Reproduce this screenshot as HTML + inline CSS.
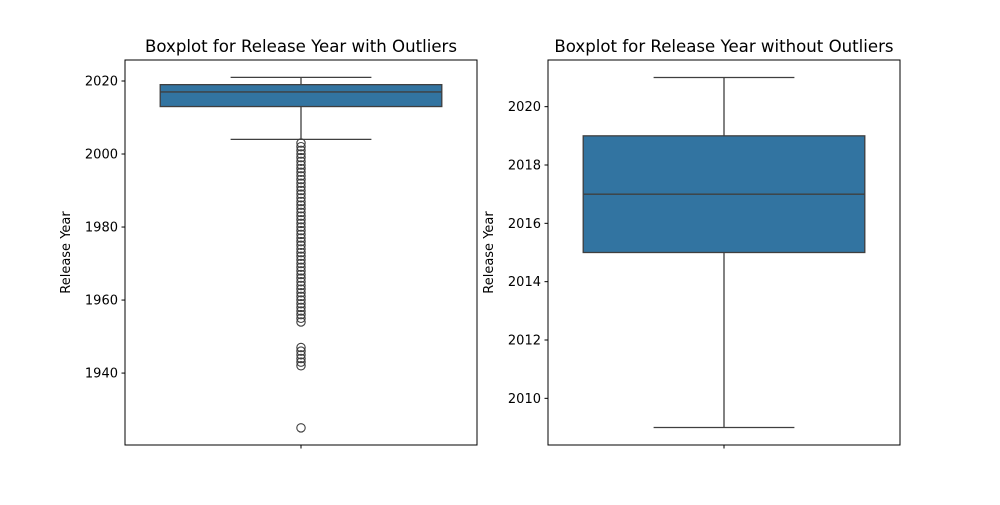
<!DOCTYPE html>
<html><head><meta charset="utf-8"><style>
body{margin:0;background:#fff;font-family:"Liberation Sans","DejaVu Sans",sans-serif}
svg text{font-family:"DejaVu Sans","Liberation Sans",sans-serif;fill:#000}
</style></head><body>
<svg id="c" width="1000" height="500" xmlns="http://www.w3.org/2000/svg"></svg>
<script>
const leftStats=[2004,2013,2017,2019,2021];
const leftOutliers=[1925,1942,1943,1944,1945,1946,1947,1954,1955,1956,1957,1958,1959,1960,1961,1962,1963,1964,1965,1966,1967,1968,1969,1970,1971,1972,1973,1974,1975,1976,1977,1978,1979,1980,1981,1982,1983,1984,1985,1986,1987,1988,1989,1990,1991,1992,1993,1994,1995,1996,1997,1998,1999,2000,2001,2002,2003];
const leftTicks=[1940,1960,1980,2000,2020];
const rightStats=[2009,2015,2017,2019,2021];
const rightTicks=[2010,2012,2014,2016,2018,2020];
const NS="http://www.w3.org/2000/svg";
const svg=document.getElementById('c');
function mk(tag,attrs,parent){const e=document.createElementNS(NS,tag);for(const k in attrs)e.setAttribute(k,attrs[k]);(parent||svg).appendChild(e);return e;}
function panel(x0,x1,ymin,ymax,stats,outliers,ticks,title,key){
  const top=60,bot=445;
  const g=mk('g',{});
  
  
  const y=v=>bot-(v-ymin)/(ymax-ymin)*(bot-top);
  const cx=(x0+x1)/2, bw=(x1-x0)*0.8;
  const wl=mk('line',{x1:cx,x2:cx,y1:y(stats[0]),y2:y(stats[1]),stroke:'#3f3f3f','stroke-width':1.3},g);
  
  const wu=mk('line',{x1:cx,x2:cx,y1:y(stats[3]),y2:y(stats[4]),stroke:'#3f3f3f','stroke-width':1.3},g);
  
  [stats[0],stats[4]].forEach((v,i)=>{const c=mk('line',{x1:cx-bw/4,x2:cx+bw/4,y1:y(v),y2:y(v),stroke:'#3f3f3f','stroke-width':1.3},g);
    });
  const b=mk('rect',{x:cx-bw/2,y:y(stats[3]),width:bw,height:y(stats[1])-y(stats[3]),fill:'#3274a1',stroke:'#3f3f3f','stroke-width':1.3},g);
  
  const m=mk('line',{x1:cx-bw/2,x2:cx+bw/2,y1:y(stats[2]),y2:y(stats[2]),stroke:'#3f3f3f','stroke-width':1.3},g);
  
  outliers.forEach(v=>{const o=mk('circle',{cx:cx,cy:y(v),r:4.2,fill:'none',stroke:'#3f3f3f','stroke-width':1.1},g);
    });
  const fr=mk('rect',{x:x0,y:top,width:x1-x0,height:bot-top,fill:'none',stroke:'#000','stroke-width':1},g);
  
  ticks.forEach(t=>{mk('line',{x1:x0-3.5,x2:x0,y1:y(t),y2:y(t),stroke:'#000'},g);
    const tx=mk('text',{x:x0-7,y:y(t)+4.5,'text-anchor':'end','font-size':13},g);tx.textContent=t;
    });
  mk('line',{x1:cx,x2:cx,y1:bot,y2:bot+3.5,stroke:'#000'},g);
  const yl=mk('text',{x:x0-55,y:(top+bot)/2,'text-anchor':'middle','font-size':13,transform:`rotate(-90 ${x0-55} ${(top+bot)/2})`},g);
  yl.textContent='Release Year';
  const ti=mk('text',{x:cx,y:top-8,'text-anchor':'middle','font-size':16.6},g);
  ti.textContent=title;
}
panel(125,477,1920.3,2025.75,leftStats,leftOutliers,leftTicks,'Boxplot for Release Year with Outliers','left');
panel(548,900,2008.4,2021.6,rightStats,[],rightTicks,'Boxplot for Release Year without Outliers','right');
</script>
</body></html>
